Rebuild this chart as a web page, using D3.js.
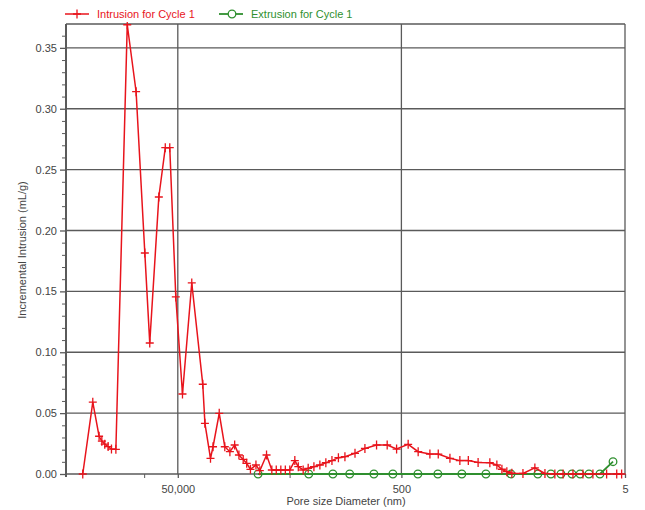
<!DOCTYPE html>
<html><head><meta charset="utf-8">
<script src="https://cdn.jsdelivr.net/npm/d3@7"></script>
<style>body{margin:0;background:#fff}svg text{font-family:Arial,"Liberation Sans",sans-serif}</style>
</head><body><svg id="c" width="645" height="510"></svg>
<script>
const intrusionDiameter = [354000, 288000, 253000, 239000, 225000, 210000, 196000, 179000,
  141600, 118000, 98600, 89100, 73900, 64700, 59000, 52100,
  45400, 37500, 29900, 28600, 25500, 24200, 21300, 19000,
  17100, 15500, 14200, 13000, 12100, 11200, 10000, 9230,
  8040, 7210, 6580, 5990, 5460, 4980, 4490, 4180,
  3780, 3410, 3030, 2680, 2370, 2090, 1830, 1600,
  1300, 1060, 834, 670, 552, 435, 354, 278,
  234, 184, 150, 126, 103, 80.9, 70.0, 63.1,
  57.0, 51.4, 40.9, 32.0, 26.0, 21.2, 17.9, 14.6,
  11.9, 9.68, 7.30, 5.93, 5.36];
const intrusionValue = [0, 0.059, 0.031, 0.027, 0.0245, 0.0225, 0.0205, 0.0203,
  0.369, 0.314, 0.1815, 0.1076, 0.2275, 0.268, 0.268, 0.1454,
  0.0657, 0.1569, 0.0737, 0.0416, 0.0129, 0.0224, 0.0498, 0.0224,
  0.0183, 0.0238, 0.0156, 0.012, 0.0088, 0.0038, 0.0074, 0.0027,
  0.0156, 0.0033, 0.0033, 0.0033, 0.0033, 0.0033, 0.011, 0.006,
  0.0033, 0.0047, 0.006, 0.0074, 0.0093, 0.011, 0.0134, 0.0142,
  0.017, 0.021, 0.0238, 0.0238, 0.0205, 0.0244, 0.0183, 0.0164,
  0.0164, 0.0129, 0.011, 0.011, 0.0095, 0.0093, 0.0074, 0.0039,
  0.0019, 0.0006, 0.0005, 0.005, 0.0005, 0, 0, 0,
  0, 0, 0, 0, 0];
const extrusionDiameter = [9570, 3370, 2050, 1450, 881, 596, 356, 236, 144, 87.7,
  52.4, 30.1, 23.0, 18.7, 14.9, 12.6, 10.5, 8.38, 6.40];
const extrusionValue = [0, 0, 0, 0, 0, 0, 0, 0, 0, 0,
  0, 0, 0, 0, 0, 0, 0, 0, 0.0101];
const yTickValues = [0, 0.05, 0.10, 0.15, 0.20, 0.25, 0.30, 0.35];
const yMinorTicks = [0.01,0.02,0.03,0.04,0.06,0.07,0.08,0.09,0.11,0.12,0.13,0.14,0.16,0.17,0.18,0.19,0.21,0.22,0.23,0.24,0.26,0.27,0.28,0.29,0.31,0.32,0.33,0.34,0.36];
const xTickValues = [50000, 500, 5];
const xTickLabels = ["50,000", "500", "5"];
const xMinorTicks = [100000, 5000];
const seriesNames = ["Intrusion for Cycle 1", "Extrusion for Cycle 1"];

const RED = "#e8141c", GREEN = "#2f8f2f", GRID = "#5a5a5a", TXT = "#444";
const svg = d3.select("#c");
const L = 66, R = 625, T = 24, B = 474;
const x = d3.scaleLog().domain([500000, 5]).range([L, R]);
const y = d3.scaleLinear().domain([0, 0.3696]).range([B, T]);

const g = svg.append("g");
g.selectAll(".hg").data(yTickValues).join("line")
  .attr("x1", L).attr("x2", R).attr("y1", d => y(d)).attr("y2", d => y(d))
  .attr("stroke", GRID).attr("stroke-width", 1.3);
g.append("line").attr("x1", L).attr("x2", R).attr("y1", T).attr("y2", T).attr("stroke", GRID).attr("stroke-width", 1.3);
g.selectAll(".vg").data(xTickValues).join("line")
  .attr("x1", d => x(d)).attr("x2", d => x(d)).attr("y1", T).attr("y2", B)
  .attr("stroke", GRID).attr("stroke-width", 1.3);

const yAxis = d3.axisLeft(y).tickValues(yTickValues).tickFormat(d3.format(".2f")).tickSize(6).tickPadding(3);
const ya = svg.append("g").attr("transform", `translate(${L},0)`).call(yAxis);
ya.select(".domain").attr("stroke", GRID).attr("stroke-width", 2).attr("d", `M0,${T}V${B+3}`);
ya.selectAll(".tick line").attr("stroke", GRID).attr("stroke-width", 1.3);
ya.selectAll("text").attr("fill", TXT).attr("font-size", 11);
const yMinor = d3.axisLeft(y).tickValues(yMinorTicks).tickSize(4).tickFormat("");
const ym = svg.append("g").attr("transform", `translate(${L},0)`).call(yMinor);
ym.select(".domain").remove();
ym.selectAll(".tick line").attr("stroke", GRID).attr("stroke-width", 1);

const xAxis = d3.axisBottom(x).tickValues(xTickValues).tickFormat((d, i) => xTickLabels[i]).tickSize(4).tickPadding(7);
const xa = svg.append("g").attr("transform", `translate(0,${B})`).call(xAxis);
xa.select(".domain").remove();
xa.selectAll(".tick line").attr("stroke", GRID).attr("stroke-width", 1.3);
xa.selectAll("text").attr("fill", TXT).attr("font-size", 11);
const xMinor = d3.axisBottom(x).tickValues(xMinorTicks).tickSize(4).tickFormat("");
const xm = svg.append("g").attr("transform", `translate(0,${B})`).call(xMinor);
xm.select(".domain").remove();
xm.selectAll(".tick line").attr("stroke", GRID).attr("stroke-width", 1);

svg.append("text").attr("x", 346).attr("y", 505).attr("text-anchor", "middle")
  .attr("font-size", 11).attr("fill", TXT).text("Pore size Diameter (nm)");
svg.append("text").attr("transform", "translate(26,250) rotate(-90)").attr("text-anchor", "middle")
  .attr("font-size", 11).attr("fill", TXT).text("Incremental Intrusion (mL/g)");

const intr = intrusionDiameter.map((d, i) => ({d, v: intrusionValue[i]}));
const extr = extrusionDiameter.map((d, i) => ({d, v: extrusionValue[i]}));
const line = d3.line().x(p => x(p.d)).y(p => y(p.v));
svg.append("defs").append("clipPath").attr("id", "clip").append("rect")
  .attr("x", L - 5).attr("y", T - 2).attr("width", R - L + 10).attr("height", B - T + 8);
const plot = svg.append("g").attr("clip-path", "url(#clip)");

plot.append("path").datum(extr).attr("d", line).attr("fill", "none").attr("stroke", GREEN).attr("stroke-width", 1.8);
plot.selectAll(".ec").data(extr).join("circle")
  .attr("cx", p => x(p.d)).attr("cy", p => y(p.v)).attr("r", 3.8)
  .attr("fill", "none").attr("stroke", GREEN).attr("stroke-width", 1.3);

plot.append("path").datum(intr).attr("d", line).attr("fill", "none").attr("stroke", RED).attr("stroke-width", 1.5);
plot.selectAll(".ip").data(intr).join("path")
  .attr("transform", p => `translate(${x(p.d)},${y(p.v)})`)
  .attr("d", "M-4,0H4M0,-4.5V4.5").attr("stroke", RED).attr("stroke-width", 1.3);

const lg = svg.append("g");
lg.append("line").attr("x1", 65).attr("x2", 89).attr("y1", 14).attr("y2", 14).attr("stroke", RED).attr("stroke-width", 1.5);
lg.append("path").attr("transform", "translate(77,14)").attr("d", "M-4,0H4M0,-4.5V4.5").attr("stroke", RED).attr("stroke-width", 1.3);
lg.append("text").attr("x", 97).attr("y", 18).attr("font-size", 11).attr("fill", RED).text(seriesNames[0]);
lg.append("line").attr("x1", 219).attr("x2", 243).attr("y1", 14).attr("y2", 14).attr("stroke", GREEN).attr("stroke-width", 1.8);
lg.append("circle").attr("cx", 232).attr("cy", 14).attr("r", 3.8).attr("fill", "#fff").attr("stroke", GREEN).attr("stroke-width", 1.3);
lg.append("text").attr("x", 251).attr("y", 18).attr("font-size", 11).attr("fill", GREEN).text(seriesNames[1]);
</script></body></html>
